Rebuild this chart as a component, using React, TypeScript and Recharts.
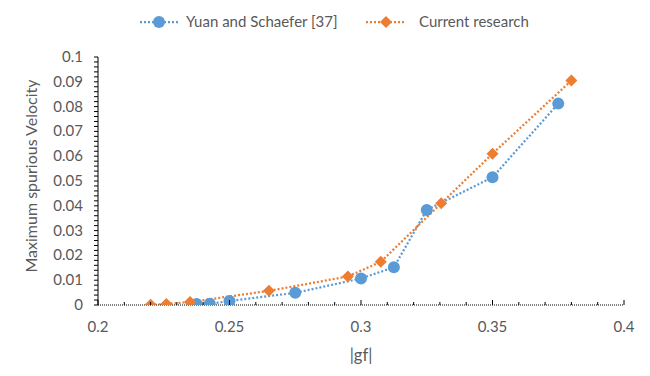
import React from "react";
import { LineChart, Line, XAxis, YAxis, Legend, Label } from "recharts";

// |gf| vs maximum spurious velocity
const yuanGf = [0.2375, 0.2425, 0.25, 0.275, 0.3, 0.3125, 0.325, 0.35, 0.375];
const yuanVel = [0.0004, 0.0005, 0.0016, 0.0049, 0.0107, 0.0152, 0.0383, 0.0515, 0.0812];
const currentGf = [0.22, 0.226, 0.235, 0.265, 0.295, 0.3075, 0.3305, 0.35, 0.38];
const currentVel = [0.0001, 0.0004, 0.0012, 0.0057, 0.0115, 0.0174, 0.041, 0.061, 0.0905];

const xTicks = [
    0.2, 0.21, 0.22, 0.23, 0.24, 0.25, 0.26, 0.27, 0.28, 0.29, 0.3,
    0.31, 0.32, 0.33, 0.34, 0.35, 0.36, 0.37, 0.38, 0.39, 0.4,
];
// minor ticks every 0.002, labels every 0.01
const yTicks = Array.from({ length: 51 }, (_, i) => +(i * 0.002).toFixed(3));

const BLUE = "#5B9BD5";
const ORANGE = "#ED7D31";
const TEXT = "#595959";
const FONT = "Lato, 'Liberation Sans', sans-serif";

const yuanData = yuanGf.map((gf, i) => ({ gf, v: yuanVel[i] }));
const currentData = currentGf.map((gf, i) => ({ gf, v: currentVel[i] }));

const fmt = (v: number) => String(parseFloat(v.toFixed(3)));

function XTick(props: any) {
    const { x, y, index, payload } = props;
    const major = index % 5 === 0;
    return (
        <g>
            <line x1={x} x2={x} y1={y - (major ? 5 : 3)} y2={y} stroke="#000" strokeWidth={1} />
            {major && (
                <text x={x} y={y + 27} textAnchor="middle" fill={TEXT} fontSize={15} fontFamily={FONT}>
                    {fmt(payload.value)}
                </text>
            )}
        </g>
    );
}

function YTick(props: any) {
    const { x, y, index, payload } = props;
    const major = index % 5 === 0;
    return (
        <g>
            <line x1={x - 4} x2={x} y1={y} y2={y} stroke="#000" strokeWidth={1} />
            {major && (
                <text x={x - 15} y={y + 5} textAnchor="end" fill={TEXT} fontSize={15} fontFamily={FONT}>
                    {fmt(payload.value)}
                </text>
            )}
        </g>
    );
}

function CircleDot(props: any) {
    const { cx, cy, index } = props;
    return <circle key={`c${index}`} cx={cx} cy={cy} r={6} fill={BLUE} />;
}

function DiamondDot(props: any) {
    const { cx, cy, index } = props;
    const s = 6;
    return (
        <polygon
            key={`d${index}`}
            points={`${cx},${cy - s} ${cx + s},${cy} ${cx},${cy + s} ${cx - s},${cy}`}
            fill={ORANGE}
        />
    );
}

function renderLegend() {
    return (
        <svg width={650} height={30}>
            <line x1={140} x2={178} y1={15} y2={15} stroke={BLUE} strokeWidth={2.25} strokeDasharray="2 2" />
            <circle cx={159} cy={15} r={6} fill={BLUE} />
            <text x={186} y={20} fill={TEXT} fontSize={15} fontFamily={FONT}>
                Yuan and Schaefer [37]
            </text>
            <line x1={366} x2={405} y1={15} y2={15} stroke={ORANGE} strokeWidth={2.25} strokeDasharray="2 2" />
            <polygon points="386,9 392,15 386,21 380,15" fill={ORANGE} />
            <text x={419} y={20} fill={TEXT} fontSize={15} fontFamily={FONT}>
                Current research
            </text>
        </svg>
    );
}

export default function App() {
    return (
        <div style={{ position: "absolute", left: 0, top: 0, width: 650, height: 376, background: "#fff" }}>
            <LineChart
                width={650}
                height={376}
                margin={{ top: 27, right: 26, bottom: 11, left: 0 }}
                style={{ fontFamily: FONT }}
            >
                <Legend
                    verticalAlign="top"
                    height={30}
                    content={renderLegend}
                    wrapperStyle={{ top: 7, left: 0, width: 650, height: 30 }}
                />
                <XAxis
                    type="number"
                    dataKey="gf"
                    domain={[0.2, 0.4]}
                    ticks={xTicks}
                    interval={0}
                    tickSize={0}
                    tickMargin={0}
                    tick={<XTick />}
                    height={60}
                    axisLine={{ stroke: "#000", strokeDasharray: "1 1" }}
                    allowDataOverflow
                >
                    <Label
                        value="|gf|"
                        position="insideBottom"
                        offset={4}
                        style={{ fill: TEXT, fontSize: 16.5, fontFamily: FONT }}
                    />
                </XAxis>
                <YAxis
                    type="number"
                    domain={[0, 0.1]}
                    ticks={yTicks}
                    interval={0}
                    tickSize={0}
                    tickMargin={0}
                    tick={<YTick />}
                    width={98}
                    axisLine={{ stroke: "#000" }}
                    allowDataOverflow
                >
                    <Label
                        content={() => (
                            <text
                                transform="translate(37,176) rotate(-90)"
                                textAnchor="middle"
                                fill={TEXT}
                                fontSize={16}
                                fontFamily={FONT}
                            >
                                Maximum spurious Velocity
                            </text>
                        )}
                    />
                </YAxis>
                <Line
                    data={yuanData}
                    dataKey="v"
                    name="Yuan and Schaefer [37]"
                    type="linear"
                    stroke={BLUE}
                    strokeWidth={2.25}
                    strokeDasharray="2 2"
                    dot={CircleDot}
                    activeDot={false}
                    isAnimationActive={false}
                />
                <Line
                    data={currentData}
                    dataKey="v"
                    name="Current research"
                    type="linear"
                    stroke={ORANGE}
                    strokeWidth={2.25}
                    strokeDasharray="2 2"
                    dot={DiamondDot}
                    activeDot={false}
                    isAnimationActive={false}
                />
            </LineChart>
        </div>
    );
}
